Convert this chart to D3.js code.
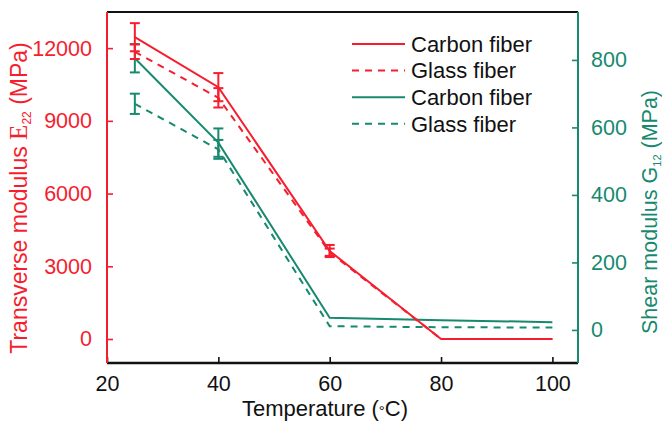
<!DOCTYPE html>
<html>
<head>
<meta charset="utf-8">
<script src="https://cdn.jsdelivr.net/npm/d3@7"></script>
<style>
  html, body { margin: 0; padding: 0; background: #fff; }
  svg { display: block; font-family: "Liberation Sans", Arial, sans-serif; }
</style>
</head>
<body>
<svg id="chart" width="662" height="426"></svg>
<script>
// Temperature points (°C)
const temperatures = [25, 40, 60, 80, 100];

// Transverse modulus E22 (MPa), left axis
const e22Carbon = [12450, 10390, 3630, 0, 0];
const e22CarbonErr = [580, 580, 250, 0, 0];
const e22Glass = [11850, 9950, 3580, 0, 0];
const e22GlassErr = [300, 400, 150, 0, 0];

// Shear modulus G12 (MPa), right axis
const g12Carbon = [805, 555, 36, 29, 23];
const g12CarbonErr = [42, 42, 0, 0, 0];
const g12Glass = [670, 535, 11, 8, 7];
const g12GlassErr = [30, 28, 0, 0, 0];

const xTicks = [20, 40, 60, 80, 100];
const leftTicks = [0, 3000, 6000, 9000, 12000];
const rightTicks = [0, 200, 400, 600, 800];

const legendLabels = ["Carbon fiber", "Glass fiber", "Carbon fiber", "Glass fiber"];

const RED = "#f61e2e";
const TEAL = "#17896f";

const svg = d3.select("#chart");
const m = { left: 107, right: 578, top: 12, bottom: 363 };

const x = d3.scaleLinear().domain([20, 104.6]).range([m.left, m.right]);
const yL = d3.scaleLinear().domain([-990, 13490]).range([m.bottom, m.top]);
const yR = d3.scaleLinear().domain([-98, 942]).range([m.bottom, m.top]);

const FS = 21.5;
const fmt = d3.format("d");

// Axes
const axisStyle = (g, color) => {
  g.select(".domain").remove();
  g.selectAll(".tick line").attr("stroke", color).attr("stroke-width", 1.6);
  g.selectAll(".tick text").attr("fill", color).style("font-size", FS + "px")
    .style("font-family", "'Liberation Sans', Arial, sans-serif");
};

svg.append("g").attr("transform", `translate(0,${m.bottom})`)
  .call(d3.axisBottom(x).tickValues(xTicks).tickFormat(fmt).tickSizeInner(-6).tickSizeOuter(0).tickPadding(13))
  .call(g => axisStyle(g, "#111"));

svg.append("g").attr("transform", `translate(${m.left},0)`)
  .call(d3.axisLeft(yL).tickValues(leftTicks).tickFormat(fmt).tickSizeInner(-6).tickSizeOuter(0).tickPadding(15))
  .call(g => axisStyle(g, RED));

svg.append("g").attr("transform", `translate(${m.right},0)`)
  .call(d3.axisRight(yR).tickValues(rightTicks).tickFormat(fmt).tickSizeInner(-6).tickSizeOuter(0).tickPadding(13))
  .call(g => axisStyle(g, TEAL));

// Frame lines
svg.append("line").attr("x1", m.left).attr("x2", m.right).attr("y1", m.top).attr("y2", m.top)
  .attr("stroke", "#111").attr("stroke-width", 2.2);
svg.append("line").attr("x1", m.left).attr("x2", m.right).attr("y1", m.bottom).attr("y2", m.bottom)
  .attr("stroke", "#111").attr("stroke-width", 2.4);
svg.append("line").attr("x1", m.left).attr("x2", m.left).attr("y1", m.top).attr("y2", m.bottom)
  .attr("stroke", RED).attr("stroke-width", 2);
svg.append("line").attr("x1", m.right).attr("x2", m.right).attr("y1", m.top).attr("y2", m.bottom)
  .attr("stroke", TEAL).attr("stroke-width", 2);

// Series
const series = [
  { vals: g12Carbon, err: g12CarbonErr, y: yR, color: TEAL, dash: null },
  { vals: g12Glass, err: g12GlassErr, y: yR, color: TEAL, dash: "7,6" },
  { vals: e22Glass, err: e22GlassErr, y: yL, color: RED, dash: "7,6" },
  { vals: e22Carbon, err: e22CarbonErr, y: yL, color: RED, dash: null }
];

const plot = svg.append("g");
series.forEach(s => {
  const line = d3.line().x((d, i) => x(temperatures[i])).y(d => s.y(d));
  plot.append("path").datum(s.vals)
    .attr("d", line).attr("fill", "none")
    .attr("stroke", s.color).attr("stroke-width", 2)
    .attr("stroke-dasharray", s.dash);

  const eb = plot.append("g").attr("stroke", s.color).attr("stroke-width", 2);
  s.vals.forEach((v, i) => {
    const e = s.err[i];
    if (!e) return;
    const cx = x(temperatures[i]);
    const y1 = s.y(v + e), y2 = s.y(v - e);
    eb.append("line").attr("x1", cx).attr("x2", cx).attr("y1", y1).attr("y2", y2);
    eb.append("line").attr("x1", cx - 5).attr("x2", cx + 5).attr("y1", y1).attr("y2", y1);
    eb.append("line").attr("x1", cx - 5).attr("x2", cx + 5).attr("y1", y2).attr("y2", y2);
  });
});

// Legend
const legendItems = [
  { color: RED, dash: null }, { color: RED, dash: "7,6" },
  { color: TEAL, dash: null }, { color: TEAL, dash: "7,6" }
];
const lg = svg.append("g");
legendItems.forEach((it, i) => {
  const ly = 44 + i * 26.6;
  lg.append("line").attr("x1", 352).attr("x2", 405).attr("y1", ly).attr("y2", ly)
    .attr("stroke", it.color).attr("stroke-width", 2).attr("stroke-dasharray", it.dash);
  lg.append("text").attr("x", 411).attr("y", ly + 7.8)
    .style("font-size", "22px").attr("fill", "#111").text(legendLabels[i]);
});

// Axis titles
const xt = svg.append("text").attr("x", 325).attr("y", 416).attr("text-anchor", "middle")
  .style("font-size", "22px").attr("fill", "#111");
xt.append("tspan").text("Temperature (");
xt.append("tspan").text("°").style("font-size", "15px");
xt.append("tspan").text("C)");

const lt = svg.append("text").attr("transform", "translate(27,198) rotate(-90)")
  .attr("text-anchor", "middle").style("font-size", "23px").attr("fill", RED);
lt.append("tspan").text("Transverse modulus ");
lt.append("tspan").text("E").style("font-family", "'Liberation Serif', serif").style("font-size", "25px");
lt.append("tspan").text("22").attr("dy", 4).style("font-size", "12px");
lt.append("tspan").text(" (MPa)").attr("dy", -4);

const rt = svg.append("text").attr("transform", "translate(657,212) rotate(-90)")
  .attr("text-anchor", "middle").style("font-size", FS + "px").attr("fill", TEAL);
rt.append("tspan").text("Shear modulus G");
rt.append("tspan").text("12").attr("dy", 4).style("font-size", "11px");
rt.append("tspan").text(" (MPa)").attr("dy", -4);
</script>
</body>
</html>
